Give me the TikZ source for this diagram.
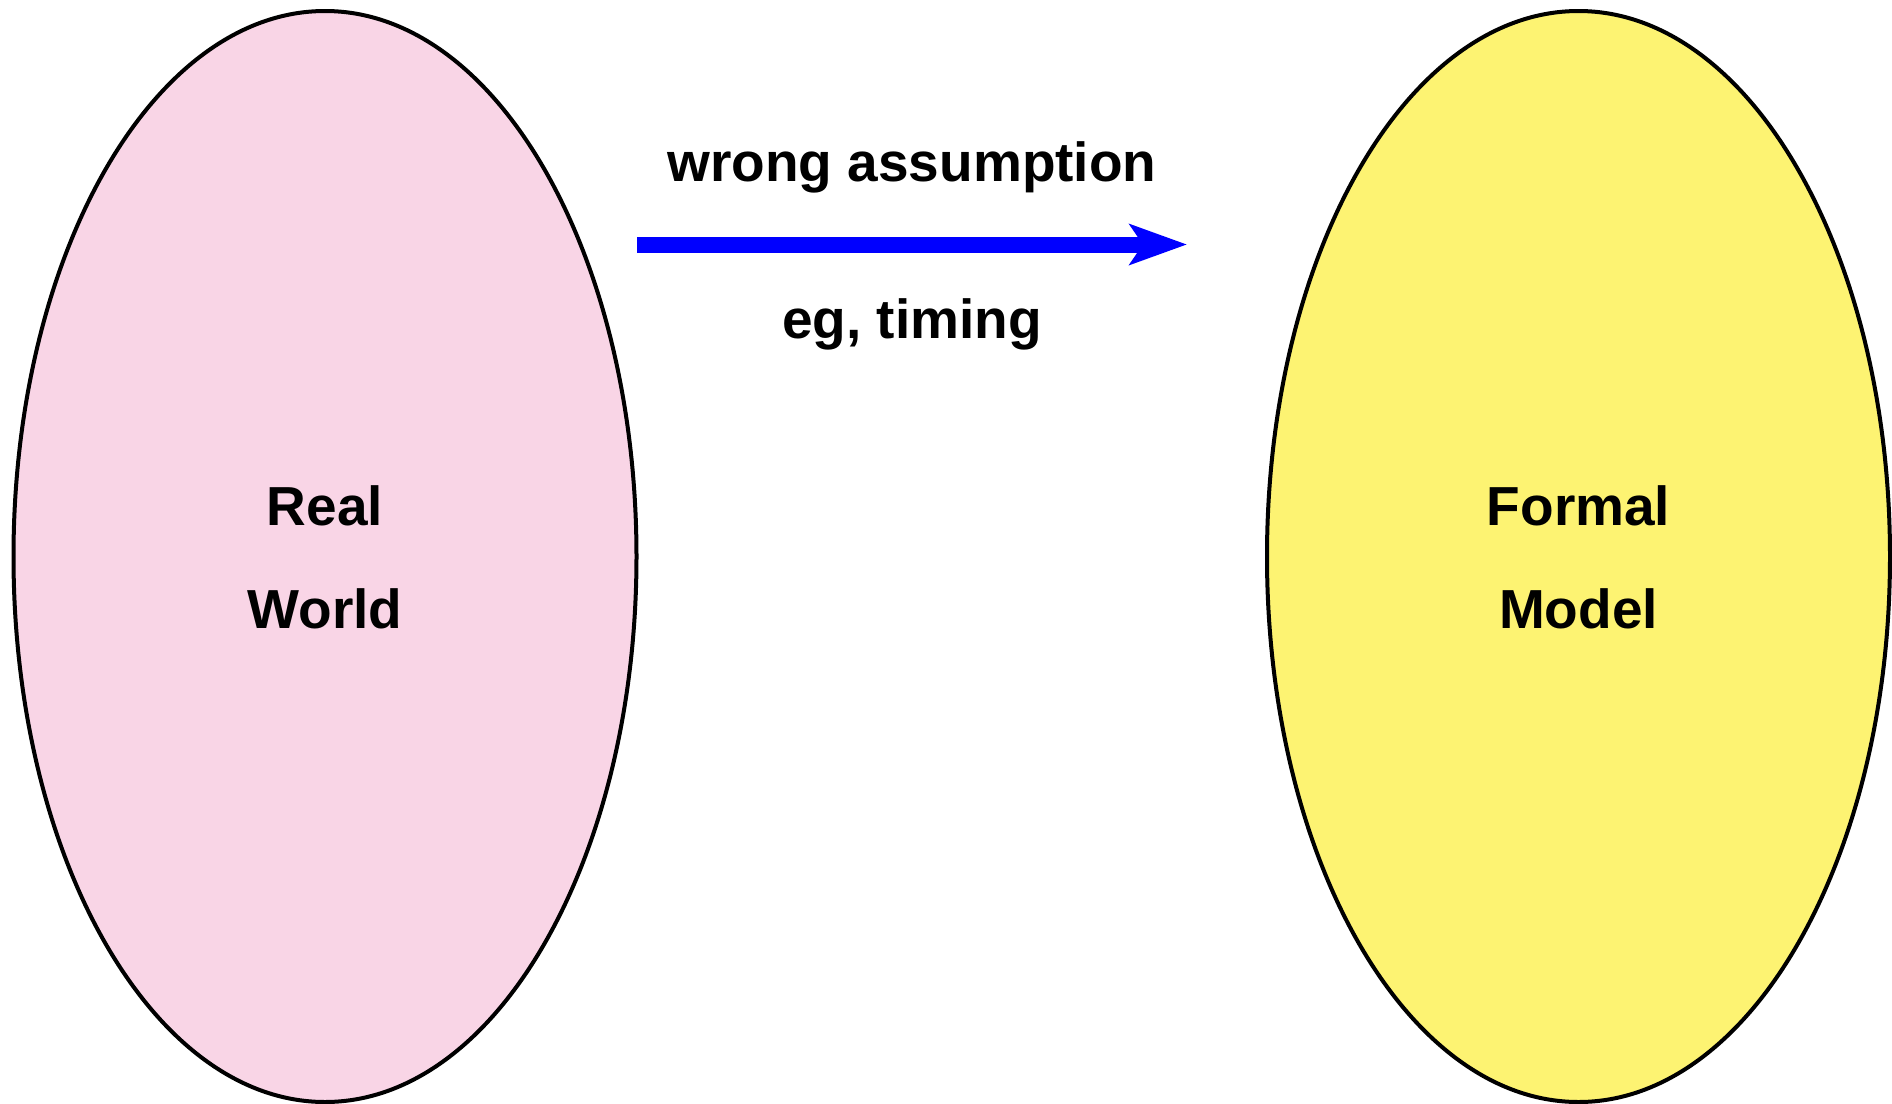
\documentclass[tikz,border=0pt]{standalone}
\usepackage{fontspec}
\setmainfont{Liberation Sans}
\usetikzlibrary{arrows.meta}
\definecolor{pinkfill}{RGB}{249,213,230}
\definecolor{yellowfill}{RGB}{253,243,114}
\begin{document}
\begin{tikzpicture}[x=0.5pt,y=-0.5pt,
  blob/.style={draw=black,line width=2pt},
  lbl/.style={inner sep=0pt,anchor=base,font=\fontsize{27.5pt}{32pt}\selectfont\bfseries},
  bluearrow/.style={draw=blue,line width=8pt,-{Stealth[length=28.5pt,width=20pt,inset=6.5pt]}}]
\useasboundingbox (0,0) rectangle (1892,1104);
\draw[blob,fill=pinkfill] (325,556.5) ellipse [x radius=311.5, y radius=545.5];
\draw[blob,fill=yellowfill] (1578.5,556.5) ellipse [x radius=311.5, y radius=545.5];
\node[lbl] (real) at (325,525) {Real};
\node[lbl] (world) at (325,628) {World};
\node[lbl] (formal) at (1578.5,525) {Formal};
\node[lbl] (model) at (1578.5,628) {Model};
\coordinate (as) at (637,244.5);
\coordinate (ae) at (1187,244.5);
\draw[bluearrow] (as) -- (ae);
\node[lbl] (wrong) at (912,181) {wrong assumption};
\node[lbl] (eg) at (912,338) {eg, timing};
\end{tikzpicture}
\end{document}
